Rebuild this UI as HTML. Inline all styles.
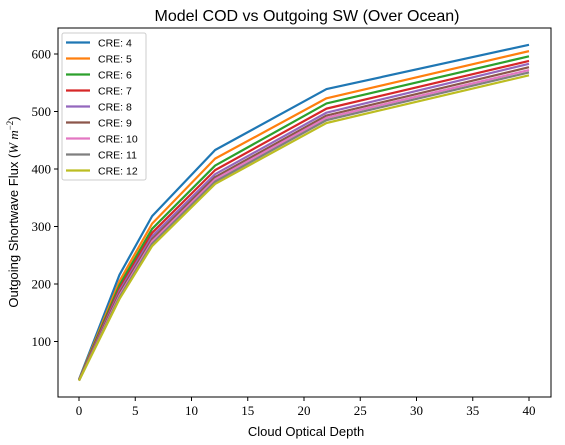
<!DOCTYPE html>
<html><head><meta charset="utf-8"><style>
body{margin:0;background:#fff}
svg{display:block}
</style></head><body>
<svg id="chart" width="565" height="445" xmlns="http://www.w3.org/2000/svg">
<rect width="565" height="445" fill="#fff"/>
<text x="307" y="21" text-anchor="middle" font-family="Liberation Sans, sans-serif" font-size="16">Model COD vs Outgoing SW (Over Ocean)</text>
<text x="306" y="436" text-anchor="middle" font-family="Liberation Sans, sans-serif" font-size="13">Cloud Optical Depth</text>
<text transform="translate(18,212) rotate(-90)" text-anchor="middle" font-family="Liberation Sans, sans-serif" font-size="13">Outgoing Shortwave Flux (<tspan font-family="Liberation Serif, serif" font-style="italic">W m</tspan><tspan font-family="Liberation Serif, serif" font-size="9" dy="-5">−2</tspan><tspan dy="5">)</tspan></text>
<g id="axes"></g>
<g id="series"></g>
<rect x="58" y="28" width="493" height="369" fill="none" stroke="#000" stroke-width="1"/>
<g id="legend"></g>
</svg>
<script>
const xs = [0, 3.6, 6.5, 12.1, 22, 40];
const labels = ["CRE: 4","CRE: 5","CRE: 6","CRE: 7","CRE: 8","CRE: 9","CRE: 10","CRE: 11","CRE: 12"];
const s4 = [34, 216, 318, 433, 539, 616];
const s5 = [33, 205, 305, 418, 523, 605];
const s6 = [33, 198, 296, 406, 514, 596];
const s7 = [33, 192, 289, 398, 505, 588];
const s8 = [33, 188, 283, 391, 498, 583];
const s9 = [33, 184, 278, 386, 493, 577];
const s10 = [32, 180, 274, 382, 489, 572];
const s11 = [32, 177, 270, 378, 485, 568];
const s12 = [32, 174, 266, 374, 480, 563];
const xTicks = [0,5,10,15,20,25,30,35,40];
const yTicks = [100,200,300,400,500,600];
const series = [s4,s5,s6,s7,s8,s9,s10,s11,s12];
const colors = ["#1f77b4","#ff7f0e","#2ca02c","#d62728","#9467bd","#8c564b","#e377c2","#7f7f7f","#bcbd22"];
const NS="http://www.w3.org/2000/svg";
const X=v=>79+v*11.25;
const Y=v=>341.5-(v-100)*0.575;
function mk(t,a,p){const e=document.createElementNS(NS,t);for(const k in a)e.setAttribute(k,a[k]);p.appendChild(e);return e;}
const ax=document.getElementById('axes');
xTicks.forEach(t=>{
 const l=mk('line',{x1:X(t),x2:X(t),y1:397,y2:401,stroke:'#000'},ax);
 
 
 const tx=mk('text',{x:X(t),y:415,'text-anchor':'middle','font-family':'Liberation Serif, serif','font-size':'13'},ax);
 tx.textContent=t;
 
 
});
yTicks.forEach(t=>{
 const l=mk('line',{x1:54,x2:58,y1:Y(t),y2:Y(t),stroke:'#000'},ax);
 
 
 const tx=mk('text',{x:51,y:Y(t)+4.5,'text-anchor':'end','font-family':'Liberation Serif, serif','font-size':'13'},ax);
 tx.textContent=t;
 
 
});
const sg=document.getElementById('series');
series.forEach((s,i)=>{
 const p=mk('polyline',{points:s.map((v,j)=>X(xs[j])+','+Y(v)).join(' '),fill:'none',stroke:colors[i],'stroke-width':'2.2','stroke-linejoin':'round'},sg);
 
 
});
const lg=document.getElementById('legend');
const box=mk('rect',{x:62,y:33,width:84,height:147,rx:2,fill:'#fff','fill-opacity':'0.8',stroke:'#ccc'},lg);


labels.forEach((lb,i)=>{
 const y=42.5+i*16;
 const l=mk('line',{x1:66,x2:90,y1:y,y2:y,stroke:colors[i],'stroke-width':'2.2'},lg);
 
 
 const t=mk('text',{x:98,y:y+4,'font-family':'Liberation Sans, sans-serif','font-size':'10.5'},lg);
 t.textContent=lb;
 
 
});
</script>
</body></html>
